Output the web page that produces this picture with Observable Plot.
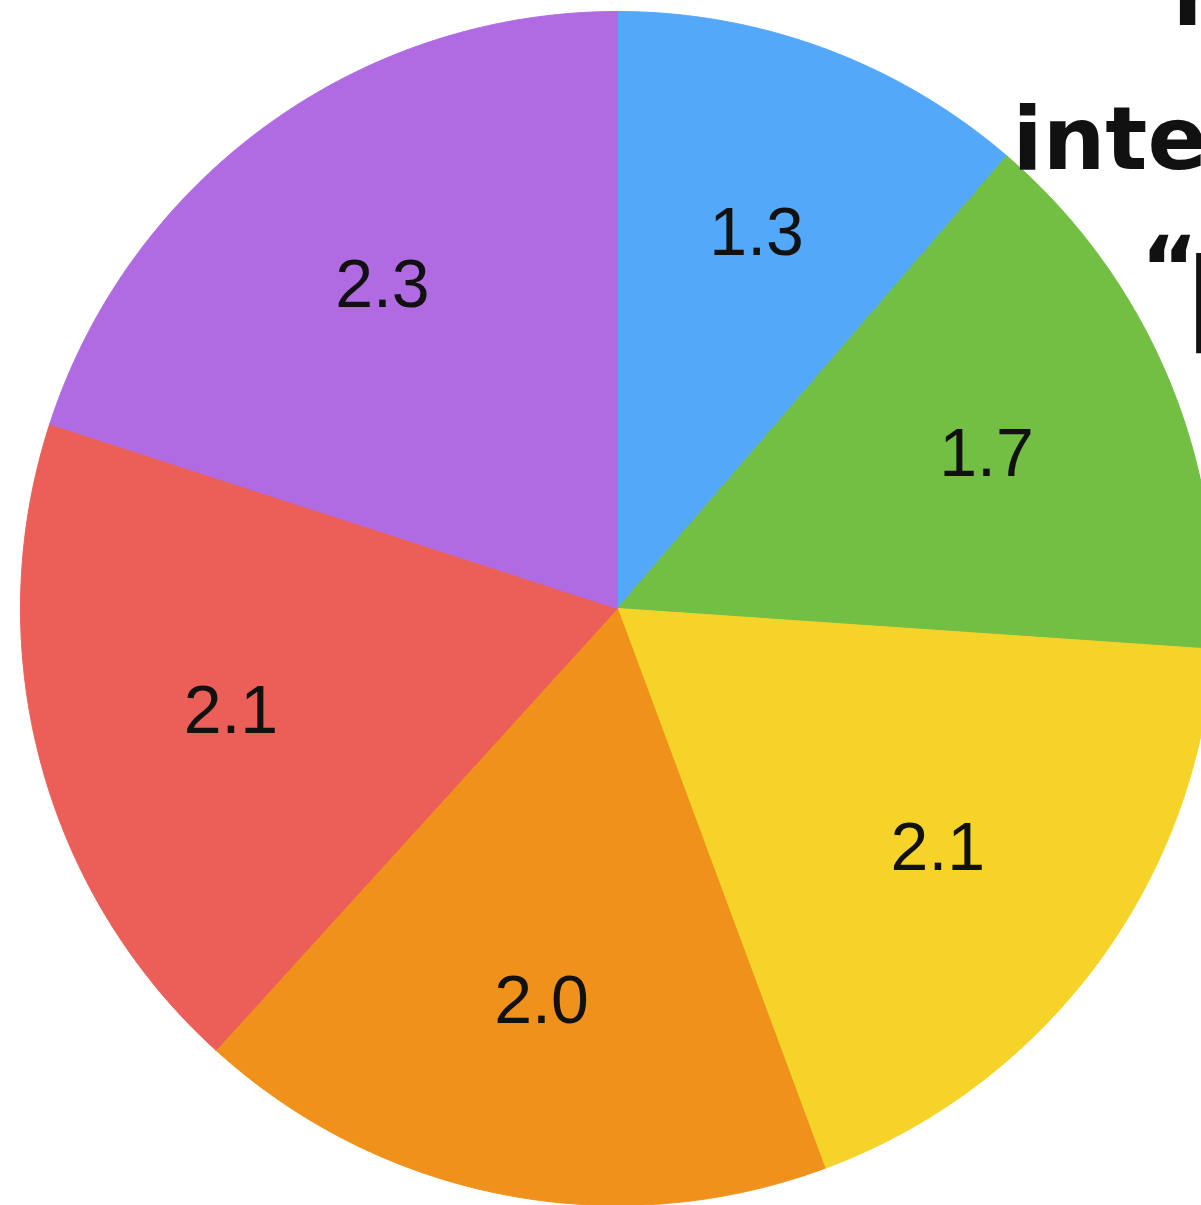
<!DOCTYPE html>
<html>
<head>
<meta charset="utf-8">
<script src="https://cdn.jsdelivr.net/npm/d3@7"></script>
<script src="https://cdn.jsdelivr.net/npm/@observablehq/plot@0.6"></script>
<style>
  html, body { margin: 0; padding: 0; background: #fff; overflow: hidden; }
  #chart svg { display: block; overflow: hidden; }
</style>
</head>
<body>
<div id="chart"></div>
<script>
// Data
const categories = ["A", "B", "C", "D", "E", "F"];
const values = [1.3, 1.7, 2.1, 2.0, 2.1, 2.3];
const labels = ["1.3", "1.7", "2.1", "2.0", "2.1", "2.3"];
const colors = ["#54A8F9", "#72BF44", "#F5D329", "#F0911B", "#EC5E58", "#B16BE2"];
const noteLines = ["r", "interesting", "“", "[...]”"];

// Layout (pixels)
const W = 1201, H = 1205;
const cx = 617, cy = 608, R = 597;
const labelRadius = 0.67;

// pie angles (clockwise from 12 o'clock)
const arcs = d3.pie().sort(null).value(d => d)(values);

// polygon vertices for slices, derived from pie angles
const slicePts = [];
arcs.forEach((a, i) => {
  const cat = categories[i];
  slicePts.push({cat, x: 0, y: 0});
  const n = Math.max(2, Math.ceil((a.endAngle - a.startAngle) / (Math.PI / 720)));
  for (let k = 0; k <= n; k++) {
    const t = a.startAngle + (a.endAngle - a.startAngle) * k / n;
    slicePts.push({cat, x: Math.sin(t), y: Math.cos(t)});
  }
  slicePts.push({cat, x: 0, y: 0});
});

const labelPts = arcs.map((a, i) => {
  const m = (a.startAngle + a.endAngle) / 2;
  return {cat: categories[i], label: labels[i], x: labelRadius * Math.sin(m), y: labelRadius * Math.cos(m)};
});

const noteFont = "'DejaVu Sans', sans-serif";

const chart = Plot.plot({
  width: W,
  height: H,
  margin: 0,
  style: {background: "#fff", overflow: "hidden"},
  x: {domain: [-1, 1], range: [cx - R, cx + R], axis: null},
  y: {domain: [-1, 1], range: [cy + R, cy - R], axis: null},
  color: {domain: categories, range: colors},
  marks: [
    Plot.line(slicePts, {x: "x", y: "y", z: "cat", fill: "cat", stroke: "cat", strokeWidth: 1, curve: "linear"}),
    Plot.text(labelPts, {x: "x", y: "y", text: "label", fill: "#111",
      fontSize: 68, fontFamily: "'Helvetica Neue', 'Liberation Sans', Arial, sans-serif", fontWeight: 400}),
    Plot.text([noteLines[0]], {frameAnchor: "top-left", text: d => d, dx: 1172, dy: -38,
      fontSize: 88, fontWeight: 700, fontFamily: noteFont, fill: "#111", textAnchor: "start", lineAnchor: "top"}),
    Plot.text([noteLines[1]], {frameAnchor: "top-left", text: d => d, dx: 1012, dy: 168,
      fontSize: 88, fontWeight: 700, fontFamily: noteFont, fill: "#111", textAnchor: "start", lineAnchor: "bottom"}),
    Plot.text([noteLines[2]], {frameAnchor: "top-left", text: d => d, dx: 1140, dy: 236,
      fontSize: 88, fontWeight: 700, fontFamily: noteFont, fill: "#111", textAnchor: "start", lineAnchor: "top"}),
    Plot.text([noteLines[3]], {frameAnchor: "top-left", text: d => d, dx: 1186, dy: 258,
      fontSize: 112, fontWeight: 700, fontFamily: noteFont, fill: "#111", textAnchor: "start", lineAnchor: "top"})
  ]
});
document.getElementById("chart").append(chart);
</script>
</body>
</html>
